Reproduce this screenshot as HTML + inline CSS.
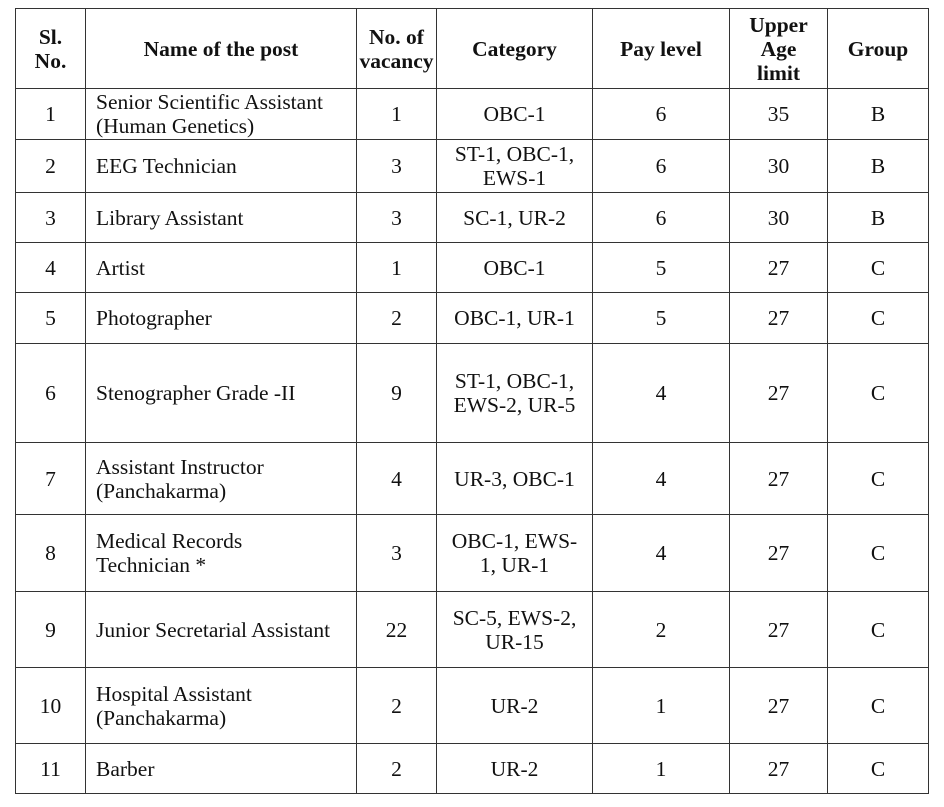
<!DOCTYPE html>
<html><head><meta charset="utf-8"><style>
html,body{margin:0;padding:0;background:#fff;}
body{width:944px;height:807px;position:relative;overflow:hidden;font-family:"Liberation Serif","Times New Roman",serif;color:#111;}
table{position:absolute;left:15px;top:8px;border-collapse:collapse;table-layout:fixed;}
td{border:1.6px solid #333;font-size:21.5px;line-height:24px;text-align:center;padding:0;vertical-align:middle;white-space:nowrap;}
td.l{text-align:left;padding-left:10px;}
tr.h td{font-weight:bold;}
</style></head><body>
<table>
<colgroup><col style="width:70px"><col style="width:271px"><col style="width:80px"><col style="width:156px"><col style="width:137px"><col style="width:98px"><col style="width:101px"></colgroup>
<tr class="h" style="height:80px"><td>Sl.<br>No.</td><td>Name of the post</td><td>No. of<br>vacancy</td><td>Category</td><td>Pay level</td><td>Upper<br>Age<br>limit</td><td>Group</td></tr>
<tr style="height:51px"><td>1</td><td class="l">Senior Scientific Assistant<br>(Human Genetics)</td><td>1</td><td>OBC-1</td><td>6</td><td>35</td><td>B</td></tr>
<tr style="height:53px"><td>2</td><td class="l">EEG Technician</td><td>3</td><td>ST-1, OBC-1,<br>EWS-1</td><td>6</td><td>30</td><td>B</td></tr>
<tr style="height:50px"><td>3</td><td class="l">Library Assistant</td><td>3</td><td>SC-1, UR-2</td><td>6</td><td>30</td><td>B</td></tr>
<tr style="height:50px"><td>4</td><td class="l">Artist</td><td>1</td><td>OBC-1</td><td>5</td><td>27</td><td>C</td></tr>
<tr style="height:51px"><td>5</td><td class="l">Photographer</td><td>2</td><td>OBC-1, UR-1</td><td>5</td><td>27</td><td>C</td></tr>
<tr style="height:99px"><td>6</td><td class="l">Stenographer Grade -II</td><td>9</td><td>ST-1, OBC-1,<br>EWS-2, UR-5</td><td>4</td><td>27</td><td>C</td></tr>
<tr style="height:72px"><td>7</td><td class="l">Assistant Instructor<br>(Panchakarma)</td><td>4</td><td>UR-3, OBC-1</td><td>4</td><td>27</td><td>C</td></tr>
<tr style="height:77px"><td>8</td><td class="l">Medical Records<br>Technician *</td><td>3</td><td>OBC-1, EWS-<br>1, UR-1</td><td>4</td><td>27</td><td>C</td></tr>
<tr style="height:76px"><td>9</td><td class="l">Junior Secretarial Assistant</td><td>22</td><td>SC-5, EWS-2,<br>UR-15</td><td>2</td><td>27</td><td>C</td></tr>
<tr style="height:76px"><td>10</td><td class="l">Hospital Assistant<br>(Panchakarma)</td><td>2</td><td>UR-2</td><td>1</td><td>27</td><td>C</td></tr>
<tr style="height:50px"><td>11</td><td class="l">Barber</td><td>2</td><td>UR-2</td><td>1</td><td>27</td><td>C</td></tr>
</table>
</body></html>
